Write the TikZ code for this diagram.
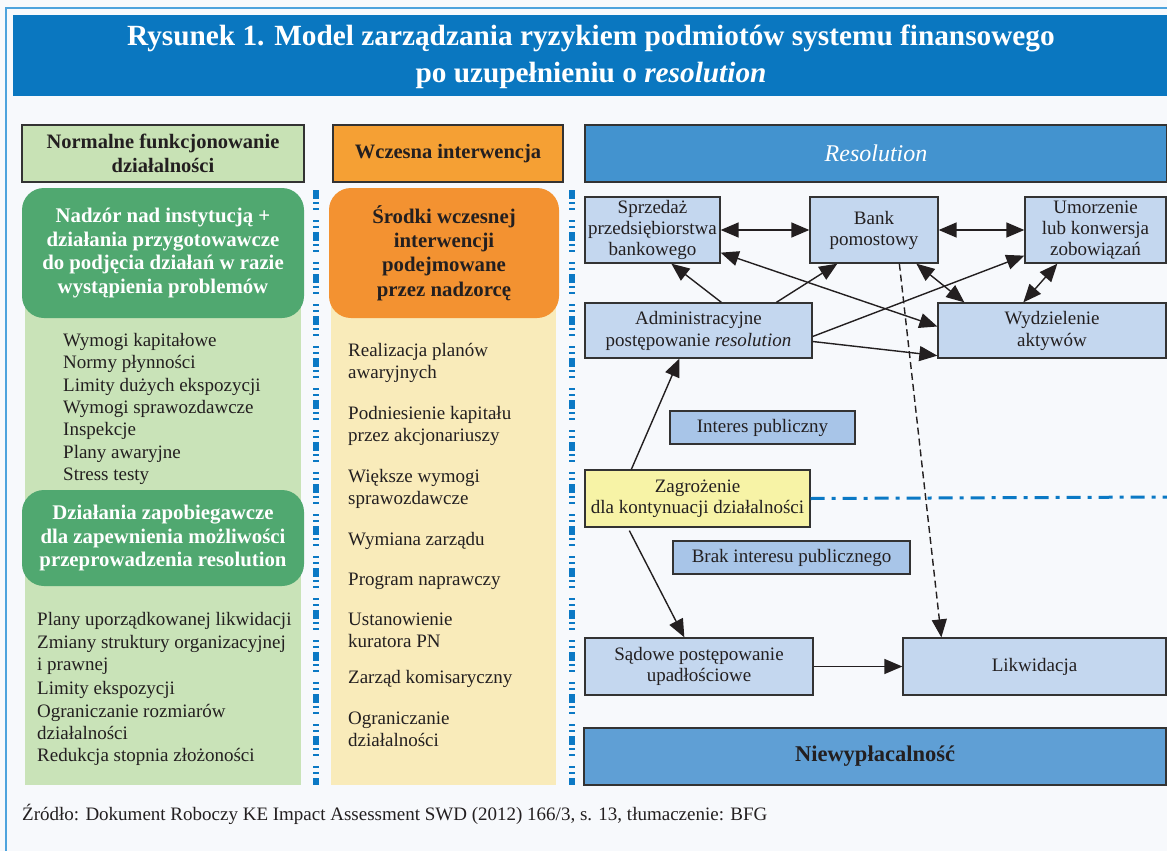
\documentclass[tikz,border=0pt]{standalone}
\usepackage{fontspec}
\setmainfont{Liberation Serif}
\usetikzlibrary{arrows.meta,calc}
\definecolor{bgc}{HTML}{F7F9FC}
\definecolor{framec}{HTML}{4DA3DD}
\definecolor{titlec}{HTML}{0A77C0}
\definecolor{hgreen}{HTML}{C8E2B5}
\definecolor{dgreen}{HTML}{50A870}
\definecolor{pgreen}{HTML}{C9E3B8}
\definecolor{horange}{HTML}{F5A034}
\definecolor{dorange}{HTML}{F39231}
\definecolor{pyellow}{HTML}{F9EBBA}
\definecolor{hblue}{HTML}{4393CF}
\definecolor{lblue}{HTML}{C4D7EF}
\definecolor{mblue}{HTML}{A8C5E8}
\definecolor{yboxc}{HTML}{F7F3A6}
\definecolor{nblue}{HTML}{5F9FD5}
\definecolor{divc}{HTML}{0B79C5}
\definecolor{txt}{HTML}{231F20}
\definecolor{bordc}{HTML}{333333}
\begin{document}
\begin{tikzpicture}[x=1pt,y=-1pt,
  hdr/.style={draw=bordc, line width=1.3pt, inner sep=0pt, align=center, text=txt,
    font=\bfseries\fontsize{20.5}{23.5}\selectfont},
  rbox/.style={rounded corners=22pt, inner sep=0pt, align=center,
    font=\bfseries\fontsize{20.8}{23.5}\selectfont},
  dbox/.style={draw=bordc, line width=1.3pt, fill=lblue, inner sep=0pt, align=center, text=txt,
    font=\fontsize{19}{21}\selectfont},
  item/.style={anchor=base west, inner sep=0pt, text=txt, font=\fontsize{19}{22}\selectfont},
  divider/.style={draw=divc, line width=6pt,
    dash pattern=on 9pt off 3pt on 2pt off 4pt on 2pt off 10pt on 2pt off 4pt on 2pt off 4pt},
  arr/.style={draw=txt, line width=1.4pt, -{Triangle[length=18pt,width=15pt]}},
  darr/.style={draw=txt, line width=1.4pt, {Triangle[length=18pt,width=15pt]}-{Triangle[length=18pt,width=15pt]}},
]
\useasboundingbox (0,0) rectangle (1167,851);
\fill[bgc] (0,0) rectangle (1167,851);
% frame
\draw[framec, line width=2pt] (6,851) -- (6,8.5) -- (1167,8.5);
% title
\fill[titlec] (13,15) rectangle (1167,96);
\node[text=white, align=center, inner sep=0pt, font=\bfseries\fontsize{29.3}{37}\selectfont] (title) at (591,56.5)
  {Rysunek 1. Model zarządzania ryzykiem podmiotów systemu finansowego\\po uzupełnieniu o \textit{resolution}};

% column headers
\node[hdr, fill=hgreen, minimum width=282pt, minimum height=57pt] (h1) at (163,153.5) {Normalne funkcjonowanie\\działalności};
\node[hdr, fill=horange, minimum width=230pt, minimum height=57pt] (h2) at (448,153.5) {Wczesna interwencja};
\node[hdr, fill=hblue, text=white, minimum width=582pt, minimum height=57pt, font=\itshape\fontsize{24}{26}\selectfont] (h3) at (876,153.5) {Resolution};

% panels
\fill[pgreen] (25,290) rectangle (301,785);
\fill[pyellow] (331,290) rectangle (556,785);

% rounded boxes
\node[rbox, fill=dgreen, text=white, minimum width=282pt, minimum height=130pt] (g1) at (163,253)
  {Nadzór nad instytucją +\\działania przygotowawcze\\do podjęcia działań w razie\\wystąpienia problemów};
\node[rbox, fill=dgreen, text=white, minimum width=282pt, minimum height=96pt] (g2) at (163,538)
  {Działania zapobiegawcze\\dla zapewnienia możliwości\\przeprowadzenia resolution};
\node[rbox, fill=dorange, text=txt, minimum width=230pt, minimum height=130pt, font=\bfseries\fontsize{20.8}{24.3}\selectfont] (o1) at (444,253)
  {Środki wczesnej\\interwencji\\podejmowane\\przez nadzorcę};

% lists
\foreach \y/\t [count=\i] in {346.5/Wymogi kapitałowe, 368.8/Normy płynności, 391.1/Limity dużych ekspozycji,
  413.4/Wymogi sprawozdawcze, 435.7/Inspekcje, 458/Plany awaryjne, 480.3/Stress testy}
  \node[item] (ga\i) at (63,\y) {\t};
\foreach \y/\t [count=\i] in {625/Plany uporządkowanej likwidacji, 648/Zmiany struktury organizacyjnej, 670.5/i prawnej,
  694.5/Limity ekspozycji, 717.5/Ograniczanie rozmiarów, 739/działalności, 761/Redukcja stopnia złożoności}
  \node[item] (gb\i) at (37,\y) {\t};
\foreach \y/\t [count=\i] in {356.5/Realizacja planów, 378.5/awaryjnych, 419.5/Podniesienie kapitału, 441.5/przez akcjonariuszy,
  482/Większe wymogi, 504/sprawozdawcze, 545/Wymiana zarządu, 585/Program naprawczy, 625/Ustanowienie,
  647/kuratora PN, 683/Zarząd komisaryczny, 724.5/Ograniczanie, 746.5/działalności}
  \node[item] (ya\i) at (348,\y) {\t};

% dividers
\coordinate (d1a) at (316,190); \coordinate (d1b) at (316,785);
\coordinate (d2a) at (572,190); \coordinate (d2b) at (572,785);
\draw[divider] (d1a) -- (d1b);
\draw[divider] (d2a) -- (d2b);

% resolution diagram
\node[dbox, minimum width=135pt, minimum height=66pt] (spr) at (652.5,230) {Sprzedaż\\przedsiębiorstwa\\bankowego};
\node[dbox, minimum width=128pt, minimum height=66pt] (bank) at (874,230) {Bank\\pomostowy};
\node[dbox, minimum width=141pt, minimum height=66pt] (umo) at (1095.5,230) {Umorzenie\\lub konwersja\\zobowiązań};
\node[dbox, minimum width=227pt, minimum height=55pt, font=\fontsize{19}{22}\selectfont] (adm) at (698.5,330.5) {Administracyjne\\postępowanie \textit{resolution}};
\node[dbox, minimum width=228pt, minimum height=55pt, font=\fontsize{19}{22}\selectfont] (wyd) at (1052,330.5) {Wydzielenie\\aktywów};
\node[dbox, fill=mblue, minimum width=185pt, minimum height=33pt] (int) at (762.5,427.5) {Interes publiczny};
\node[dbox, fill=yboxc, minimum width=225pt, minimum height=57pt] (zag) at (697.5,498.5) {Zagrożenie\\dla kontynuacji działalności};
\node[dbox, fill=mblue, minimum width=237pt, minimum height=33pt] (brak) at (791.5,557.5) {Brak interesu publicznego};
\node[dbox, minimum width=228pt, minimum height=57pt] (sad) at (699,666.5) {Sądowe postępowanie\\upadłościowe};
\node[dbox, minimum width=263pt, minimum height=57pt] (lik) at (1034.5,666.5) {Likwidacja};
\node[dbox, fill=nblue, minimum width=582pt, minimum height=57pt, font=\bfseries\fontsize{22.5}{25}\selectfont] (niew) at (875,756.5) {Niewypłacalność};

% dash-dot line
\coordinate (ddend) at (1167,497);
\draw[divc, line width=3pt, dash pattern=on 14pt off 7pt on 4pt off 7pt] (zag.east) -- (ddend);

% arrows
\draw[darr] (spr.east) -- (bank.west);
\draw[darr] (bank.east) -- (umo.west);
\draw[arr] ($(adm.north west)+(137,0)$) -- ($(spr.south west)+(87,0)$);
\draw[arr] ($(adm.north west)+(192,0)$) -- ($(bank.south west)+(28,0)$);
\draw[arr] ($(adm.east)+(0,6)$) -- ($(umo.south west)+(0,-8)$);
\draw[arr] ($(adm.east)+(0,11)$) -- ($(wyd.south west)+(0,-3)$);
\draw[darr] ($(spr.south east)+(0,-11)$) -- ($(wyd.west)+(0,-4)$);
\draw[darr] ($(bank.south west)+(107,0)$) -- ($(wyd.north west)+(27,0)$);
\draw[darr] ($(umo.south west)+(33,0)$) -- ($(wyd.north west)+(86,0)$);
\draw[arr, dash pattern=on 7pt off 4pt] ($(bank.south west)+(90,0)$) -- ($(lik.north west)+(39,0)$);
\draw[arr] ($(zag.north west)+(47,0)$) -- ($(adm.south west)+(95,0)$);
\draw[arr] ($(zag.south west)+(45,3)$) -- ($(sad.north west)+(100,0)$);
\draw[arr] (sad.east) -- (lik.west);

% source
\node[anchor=base west, inner sep=0pt, text=txt, font=\fontsize{19}{22}\selectfont] (src) at (22,820)
  {Źródło: Dokument Roboczy KE Impact Assessment SWD (2012) 166/3, s. 13, tłumaczenie: BFG};
\end{tikzpicture}
\end{document}
